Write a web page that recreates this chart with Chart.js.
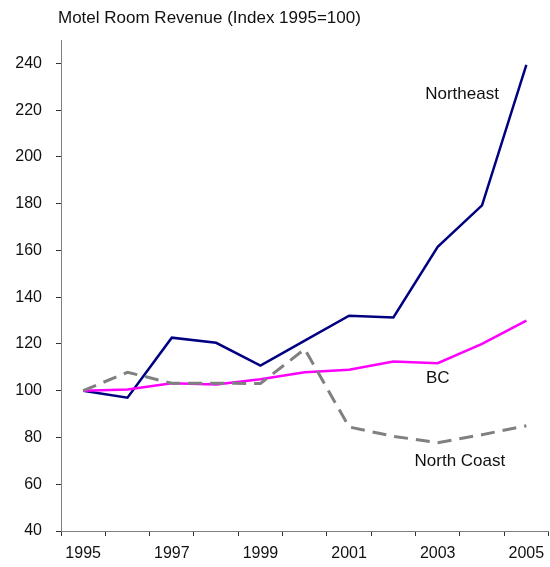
<!DOCTYPE html>
<html>
<head>
<meta charset="utf-8">
<script src="https://cdn.jsdelivr.net/npm/chart.js@4/dist/chart.umd.min.js"></script>
<style>
html,body{margin:0;padding:0;background:#fff;}
canvas{display:block;}
</style>
</head>
<body>
<canvas id="c" width="550" height="567"></canvas>
<script>
const years = ['1995','1996','1997','1998','1999','2000','2001','2002','2003','2004','2005'];
const northeast = [100, 97, 122.7, 120.5, 110.7, 121.4, 132.1, 131.3, 161.5, 179.3, 239.4];
const bc = [100, 100.5, 103.2, 102.7, 104.9, 107.9, 109, 112.5, 111.8, 120, 130];
const northCoast = [100, 107.9, 103.2, 103.2, 103.1, 117.8, 84.5, 80.5, 77.8, 81.2, 85];
const titleText = 'Motel Room Revenue (Index 1995=100)';
const seriesLabels = [
  {text: 'Northeast', x: 8.55, y: 226.8},
  {text: 'BC', x: 8.0, y: 105.2},
  {text: 'North Coast', x: 8.5, y: 69.9}
];

const FONT = '"Liberation Sans", Arial, sans-serif';

const textPlugin = {
  id: 'texts',
  afterDraw(chart) {
    const ctx = chart.ctx;
    const xs = chart.scales.x, ys = chart.scales.y;
    ctx.save();
    ctx.fillStyle = '#111';
    ctx.font = '17px ' + FONT;
    ctx.textBaseline = 'middle';
    ctx.textAlign = 'left';
    ctx.fillText(titleText, 58, 18);
    ctx.textAlign = 'center';
    seriesLabels.forEach(l => {
      ctx.fillText(l.text, xs.getPixelForValue(l.x), ys.getPixelForValue(l.y));
    });
    ctx.restore();
  }
};

new Chart(document.getElementById('c'), {
  type: 'line',
  data: {
    labels: years,
    datasets: [
      {label: 'North Coast', data: northCoast, borderColor: '#808080', borderWidth: 3, borderDash: [14, 8], pointRadius: 0, tension: 0, fill: false},
      {label: 'BC', data: bc, borderColor: '#ff00ff', borderWidth: 2.5, pointRadius: 0, tension: 0, fill: false},
      {label: 'Northeast', data: northeast, borderColor: '#000080', borderWidth: 2.5, pointRadius: 0, tension: 0, fill: false}
    ]
  },
  options: {
    responsive: false,
    animation: false,
    layout: {padding: {left: 0, right: 1.5, top: 40, bottom: 0}},
    plugins: {legend: {display: false}, tooltip: {enabled: false}, title: {display: false}},
    scales: {
      x: {
        type: 'category',
        offset: true,
        grid: {display: true, drawOnChartArea: false, drawTicks: true, tickLength: 5, offset: true, color: '#333'},
        border: {display: true, color: '#808080', width: 1},
        ticks: {
          autoSkip: false, maxRotation: 0, minRotation: 0, padding: 8,
          color: '#111', font: {family: FONT, size: 16},
          callback: function(v, i) { return i % 2 === 0 ? years[i] : ''; }
        },
        afterFit(s) { s.height = 36; s.paddingLeft = 0; s.paddingRight = 0; }
      },
      y: {
        min: 40, max: 250,
        grid: {display: true, drawOnChartArea: false, drawTicks: true, tickLength: 5, color: '#333'},
        border: {display: true, color: '#808080', width: 1},
        ticks: {stepSize: 20, includeBounds: false, padding: 14, color: '#111', font: {family: FONT, size: 16}},
        afterFit(s) { s.width = 61; s.paddingTop = 0; s.paddingBottom = 0; }
      }
    }
  },
  plugins: [textPlugin]
});
</script>
</body>
</html>
